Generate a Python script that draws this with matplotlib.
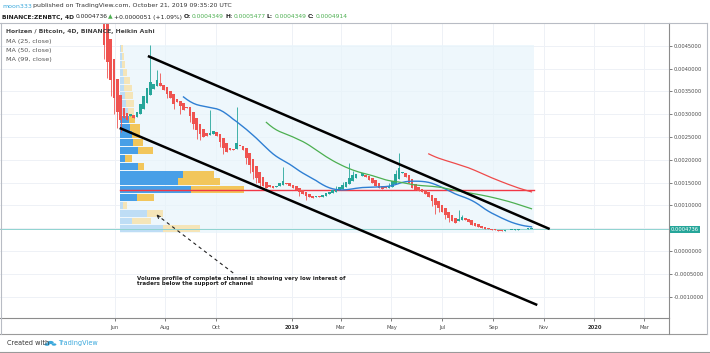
import numpy as np
import pandas as pd
import matplotlib
matplotlib.use("Agg")
import matplotlib.pyplot as plt
import matplotlib.dates as mdates
from matplotlib.patches import Rectangle, Circle
from matplotlib.lines import Line2D

W, H = 710, 353

# Heikin Ashi closes, 4D candles starting 2018-05-19
ha_close = [
    0.00452, 0.00414, 0.00375, 0.00336, 0.00305, 0.00287, 0.00292, 0.00287, 0.00300, 0.00292,
    0.00305, 0.00322, 0.00340, 0.00357, 0.00371, 0.00366, 0.00375, 0.00362, 0.00353, 0.00344,
    0.00336, 0.00322, 0.00327, 0.00318, 0.00309, 0.00314, 0.00296, 0.00279, 0.00265, 0.00257,
    0.00250, 0.00252, 0.00259, 0.00263, 0.00252, 0.00239, 0.00226, 0.00217, 0.00222, 0.00222,
    0.00237, 0.00230, 0.00222, 0.00204, 0.00189, 0.00173, 0.00160, 0.00149, 0.00143, 0.00138,
    0.00140, 0.00138, 0.00143, 0.00149, 0.00154, 0.00147, 0.00143, 0.00138, 0.00134, 0.00129,
    0.00125, 0.00121, 0.00118, 0.00116, 0.00121, 0.00118, 0.00123, 0.00127, 0.00129, 0.00134,
    0.00136, 0.00140, 0.00145, 0.00151, 0.00160, 0.00167, 0.00169, 0.00164, 0.00171, 0.00162,
    0.00156, 0.00149, 0.00143, 0.00138, 0.00136, 0.00138, 0.00143, 0.00154, 0.00169, 0.00182,
    0.00173, 0.00162, 0.00149, 0.00138, 0.00134, 0.00132, 0.00129, 0.00125, 0.00118, 0.00110,
    0.00101, 0.00094, 0.00086, 0.00079, 0.00072, 0.00066, 0.00061, 0.00070, 0.00075, 0.00068,
    0.00064, 0.00057, 0.00055, 0.00053, 0.00050, 0.00048, 0.00048, 0.00046, 0.00046, 0.00044,
    0.00044, 0.00046, 0.00046, 0.00046, 0.00048, 0.00048, 0.00048, 0.00048, 0.00050, 0.00049,
]
first_open = 0.0058
# visible wick extremes (candle index -> price)
wick_high = {0: 0.0060, 1: 0.0052, 14: 0.00452, 16: 0.00397, 17: 0.00390, 32: 0.00309,
             40: 0.00316, 54: 0.00184, 70: 0.00142, 72: 0.00152, 74: 0.00193, 75: 0.00175,
             86: 0.00150, 88: 0.00178, 89: 0.00215, 107: 0.00090, 108: 0.00080}
wick_low = {0: 0.00420, 1: 0.00380, 2: 0.00340, 3: 0.00300, 4: 0.00270, 5: 0.00262,
            19: 0.00335, 21: 0.00312, 23: 0.00300, 26: 0.00283, 27: 0.00268, 28: 0.00245,
            29: 0.00243, 35: 0.00228, 36: 0.00212, 43: 0.00190, 44: 0.00172, 45: 0.00158,
            46: 0.00150, 47: 0.00140, 59: 0.00120, 61: 0.00112, 99: 0.00098, 100: 0.00082,
            101: 0.00085, 103: 0.00070, 104: 0.00064}

# volume profile rows (bottom to top), relative volume
vp_low, vp_high = 0.00040, 0.00452
vp_up = [43, 12, 27, 3, 17, 71, 58, 63, 18, 5, 18, 13, 12, 10, 9, 8, 6, 5, 4, 4, 3, 2, 2, 1]
vp_down = [36, 19, 16, 4, 17, 52, 41, 30, 6, 7, 15, 10, 8, 10, 6, 6, 8, 8, 8, 6, 4, 3, 2, 2]
vp_value_area = (4, 14)
vp_start, vp_end = "2018-06-07", "2019-10-20"

# channel lines
upper_channel = [("2018-07-11", 0.004276), ("2019-11-08", 0.000482)]
lower_channel = [("2018-06-07", 0.002697), ("2019-10-24", -0.001184)]

last_price = 0.0004736
price_ticks = [-0.0010, -0.0005, 0.0, 0.0005, 0.0010, 0.0015, 0.0020, 0.0025, 0.0030, 0.0035, 0.0040, 0.0045]
time_ticks = ["2018-06-01", "2018-08-01", "2018-10-01", "2019-01-01", "2019-03-01", "2019-05-01",
              "2019-07-01", "2019-09-01", "2019-11-01", "2020-01-01", "2020-03-01"]
time_labels = ["Jun", "Aug", "Oct", "2019", "Mar", "May", "Jul", "Sep", "Nov", "2020", "Mar"]

RED = "#ef5350"
GREEN = "#26a69a"

dates = pd.date_range("2018-05-19", periods=len(ha_close), freq="4D")
xd = mdates.date2num(dates.to_pydatetime())
closes = np.array(ha_close)
opens = np.zeros_like(closes)
opens[0] = first_open
for i in range(1, len(closes)):
    opens[i] = (opens[i - 1] + closes[i - 1]) / 2
highs = np.maximum(opens, closes)
lows = np.minimum(opens, closes)
for k, v in wick_high.items():
    highs[k] = max(highs[k], v)
for k, v in wick_low.items():
    lows[k] = min(lows[k], v)

fig = plt.figure(figsize=(W / 100, H / 100), dpi=100)
ax = fig.add_axes([0, 1 - 318 / H, 669 / W, (318 - 23) / H])


def d2n(s):
    return mdates.date2num(pd.Timestamp(s).to_pydatetime())


ax.set_xlim(d2n("2018-01-13 12:00"), d2n("2020-03-31"))
ax.set_ylim(-0.001469, 0.0050)

# grid
ax.set_yticks(price_ticks)
ax.set_xticks([d2n(t) for t in time_ticks])
ax.grid(True, color="#eef1f6", lw=0.7)
ax.set_axisbelow(True)

# volume profile range background
x0, x1 = d2n(vp_start), d2n(vp_end)
ax.add_patch(Rectangle((x0, vp_low), x1 - x0, vp_high - vp_low, facecolor="#e8f4fb",
                       alpha=0.7, edgecolor="none", zorder=1))
nrows = len(vp_up)
rh = (vp_high - vp_low) / nrows
total = np.array(vp_up) + np.array(vp_down)
scale = 0.3 * (x1 - x0) / total.max()
for k in range(nrows):
    yb = vp_low + k * rh + rh * 0.06
    inside = vp_value_area[0] <= k <= vp_value_area[1]
    cb = "#3f9ae6" if inside else "#bcdcf5"
    cy = "#f3c452" if inside else "#f6e4b5"
    ax.add_patch(Rectangle((x0, yb), vp_up[k] * scale, rh * 0.88, facecolor=cb,
                           edgecolor="none", alpha=0.95, zorder=2))
    ax.add_patch(Rectangle((x0 + vp_up[k] * scale, yb), vp_down[k] * scale, rh * 0.88,
                           facecolor=cy, edgecolor="none", alpha=0.95, zorder=2))
poc = vp_low + (int(np.argmax(total)) + 0.5) * rh
ax.plot([x0, x1], [poc, poc], color="#f23645", lw=1.0, zorder=3)

# current price line
ax.axhline(last_price, color="#8fd3d0", lw=0.7, zorder=3)

# candles
cols = np.where(closes >= opens, GREEN, RED)
ax.vlines(xd, lows, highs, colors=cols, lw=0.6, zorder=4)
ax.bar(xd, np.maximum(np.abs(closes - opens), 0.000015), bottom=np.minimum(opens, closes),
       width=3.2, color=cols, zorder=5, linewidth=0)

# moving averages
s = pd.Series(closes)
ax.plot(xd, s.rolling(25).mean(), color="#2f7fd3", lw=1.0, zorder=6)
ax.plot(xd, s.rolling(50).mean(), color="#4caf50", lw=0.9, zorder=6)
ax.plot(xd, s.rolling(99).mean(), color="#ee4a4a", lw=0.9, zorder=6)

# channel
for ln in (upper_channel, lower_channel):
    ax.plot([d2n(ln[0][0]), d2n(ln[1][0])], [ln[0][1], ln[1][1]], color="black", lw=1.8,
            zorder=7, solid_capstyle="butt")

# annotation
ax.plot([d2n("2018-10-22"), d2n("2018-07-22")], [-0.000482, 0.000790], color="#222",
        lw=0.8, ls=(0, (3, 3)), zorder=7)
ax.annotate("", xy=(d2n("2018-07-19"), 0.000833), xytext=(d2n("2018-07-27"), 0.000700),
            arrowprops=dict(arrowstyle="->", color="#222", lw=0.7, mutation_scale=5), zorder=7)
ax.text(d2n("2018-06-28"), -0.00066,
        "Volume profile of complete channel is showing very low interest of\n"
        "traders below the support of channel",
        fontsize=3.95, fontweight="bold", color="#222", va="center", ha="left",
        linespacing=0.85, zorder=8)

# axes styling
ax.yaxis.tick_right()
ax.yaxis.set_major_formatter(plt.FuncFormatter(
    lambda v, p: "" if abs(v - 0.0005) < 1e-9 else "%.7f" % v))
ax.set_xticklabels(time_labels)
ax.tick_params(axis="y", labelsize=3.7, colors="#4a4a4a", length=2, width=0.5, pad=1.5)
ax.tick_params(axis="x", labelsize=3.8, colors="#4a4a4a", length=2, width=0.5, pad=3)
for lab in ax.get_xticklabels():
    if lab.get_text() in ("2019", "2020"):
        lab.set_fontweight("bold")
        lab.set_color("#333")
for sp in ("top", "left"):
    ax.spines[sp].set_visible(False)
ax.spines["right"].set_color("#8c8c8c")
ax.spines["right"].set_linewidth(0.8)
ax.spines["bottom"].set_color("#8c8c8c")
ax.spines["bottom"].set_linewidth(0.8)

# price label box
fig.text(671 / W, 1 - 229.4 / H, "0.0004736", fontsize=3.7, color="white", va="center",
         ha="left", bbox=dict(boxstyle="square,pad=0.25", fc="#26a69a", ec="none"))

# borders
def hline(y, xa, xb, c="#b8bcc4", lw=0.8):
    fig.add_artist(Line2D([xa / W, xb / W], [1 - y / H, 1 - y / H], color=c, lw=lw))


def vline(x, ya, yb, c="#b8bcc4", lw=0.8):
    fig.add_artist(Line2D([x / W, x / W], [1 - ya / H, 1 - yb / H], color=c, lw=lw))


hline(22.5, 0, 707)
hline(334, 0, 707, "#9a9a9a")
vline(0.5, 22.5, 334)
vline(707, 22.5, 334)
vline(669, 318, 334, "#8c8c8c")
hline(351.5, 0, 710, "#9a9a9a")

# legend texts
leg = ["Horizen / Bitcoin, 4D, BINANCE, Heikin Ashi", "MA (25, close)", "MA (50, close)",
       "MA (99, close)"]
for j, t in enumerate(leg):
    fig.text(6 / W, 1 - (32 + j * 9.3) / H, t, fontsize=4.4 if j == 0 else 4.6,
             color="#555" if j else "#444",
             fontweight="bold" if j == 0 else "normal", va="center", ha="left")

renderer = fig.canvas.get_renderer()


def seq(x, y, parts, size):
    for txt, c, wgt in parts:
        t = fig.text(x / W, 1 - y / H, txt, fontsize=size, color=c, fontweight=wgt,
                     va="center", ha="left")
        x += t.get_window_extent(renderer).width + 1.2


seq(2, 6, [("moon333", "#3aa8dc", "normal"),
           ("published on TradingView.com, October 21, 2019 09:35:20 UTC", "#333", "normal")], 4.5)
G2 = "#4caf50"
seq(2, 17, [("BINANCE:ZENBTC, 4D", "#222", "bold"), ("0.0004736", "#222", "normal"),
            ("\u25b2", G2, "normal"), ("+0.0000051 (+1.09%)", "#222", "normal"),
            ("O:", "#222", "bold"), ("0.0004349", G2, "normal"),
            ("H:", "#222", "bold"), ("0.0005477", G2, "normal"),
            ("L:", "#222", "bold"), ("0.0004349", G2, "normal"),
            ("C:", "#222", "bold"), ("0.0004914", G2, "normal")], 4.35)

# footer
fig.text(7 / W, 1 - 343 / H, "Created with", fontsize=4.7, color="#333", va="center", ha="left")
for cx, cy, r in [(47, 344.5, 2.6), (50.5, 342.5, 3.2), (54, 344.5, 2.4)]:
    fig.add_artist(Circle((cx / W, 1 - cy / H), r / W, transform=fig.transFigure,
                          fc="#3aa8dc", ec="none"))
fig.text(58 / W, 1 - 343 / H, "TradingView", fontsize=4.7, color="#3aa8dc", va="center",
         ha="left")

fig.savefig("out.png", dpi=100)
